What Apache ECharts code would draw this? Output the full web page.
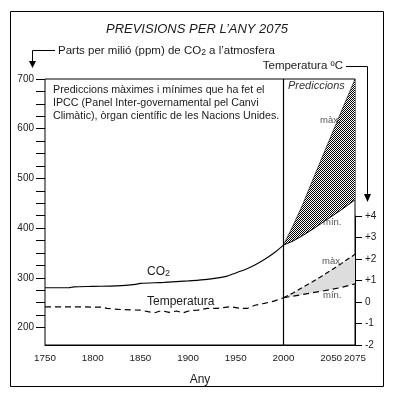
<!DOCTYPE html>
<html>
<head>
<meta charset="utf-8">
<script src="https://cdn.jsdelivr.net/npm/echarts@6/dist/echarts.min.js"></script>
<style>
html,body{margin:0;padding:0;background:#fff;}
#chart{width:394px;height:399px;}
</style>
</head>
<body>
<div id="chart"></div>
<script>
// ---- data ----
const co2Years = [1750, 1775, 1780, 1800, 1825, 1845, 1850, 1875, 1900, 1920, 1940, 1950, 1960, 1970, 1980, 1990, 2000];
const co2Values = [280, 280, 282, 283, 284, 287, 289, 291, 294, 297, 303, 310, 317, 326, 337, 350, 366];
const predYears = [2000, 2010, 2020, 2030, 2040, 2050, 2060, 2070, 2075];
const co2MaxValues = [366, 405, 447, 494, 540, 586, 632, 677, 700];
const co2MinValues = [366, 374, 385, 397, 410, 423, 436, 450, 457];
const tempYears = [1750, 1770, 1790, 1810, 1815, 1830, 1850, 1858, 1865, 1872, 1880, 1888, 1895, 1902, 1910, 1920, 1930, 1945, 1955, 1962, 1970, 1980, 1990, 2000];
const tempValues = [-0.23, -0.23, -0.23, -0.24, -0.3, -0.35, -0.38, -0.45, -0.5, -0.4, -0.48, -0.42, -0.5, -0.4, -0.38, -0.3, -0.3, -0.22, -0.3, -0.3, -0.15, -0.06, 0.04, 0.2];
const tempMaxValues = [0.2, 0.42, 0.68, 0.93, 1.2, 1.48, 1.77, 2.07, 2.22];
const tempMinValues = [0.2, 0.27, 0.35, 0.43, 0.5, 0.58, 0.67, 0.78, 0.85];
const xTickLabels = [1750, 1800, 1850, 1900, 1950, 2000, 2050, 2075];
const co2TickLabels = [200, 300, 400, 500, 600, 700];
const co2TickMarks = [200, 225, 250, 275, 300, 325, 350, 375, 400, 425, 450, 475, 500, 525, 550, 575, 600, 625, 650, 675, 700];
const tempTickLabels = [-2, -1, 0, 1, 2, 3, 4];
const predictionStart = [2000];

// ---- helpers ----
const zip = (xs, ys) => xs.map((x, i) => [x, ys[i]]);

const pc = document.createElement('canvas');
pc.width = 2; pc.height = 2;
const pctx = pc.getContext('2d');
pctx.fillStyle = '#fff'; pctx.fillRect(0, 0, 2, 2);
pctx.fillStyle = '#000'; pctx.fillRect(0, 0, 1, 1); pctx.fillRect(1, 1, 1, 1);
const hatch = {image: pc, repeat: 'repeat'};

function bandSeries(xi, yi, hi, lo, fill) {
  return {
    type: 'custom', xAxisIndex: xi, yAxisIndex: yi, z: 1, silent: true,
    data: [[predYears[0], lo[0]]],
    renderItem: (params, api) => {
      const top = predYears.map((y, i) => api.coord([y, hi[i]]));
      const bot = predYears.map((y, i) => api.coord([y, lo[i]])).reverse();
      return {type: 'polygon', shape: {points: top.concat(bot)}, style: {fill: fill, stroke: null}};
    }
  };
}

const FONT = '"Liberation Sans", Arial, Helvetica, sans-serif';
const TXT = '#1a1a1a';
const GREY = '#555';

const chart = echarts.init(document.getElementById('chart'), null, {renderer: 'canvas'});

const option = {
  animation: false,
  backgroundColor: '#fff',
  textStyle: {fontFamily: FONT},
  grid: [
    {left: 45, right: 39, top: 79, bottom: 54, show: true, borderColor: '#000', borderWidth: 1, backgroundColor: 'transparent', containLabel: false, outerBoundsMode: 'none'},
    {left: 45, right: 39, top: 216, bottom: 54, show: false, containLabel: false, outerBoundsMode: 'none'}
  ],
  xAxis: [
    {
      type: 'value', gridIndex: 0, min: 1750, max: 2075,
      axisLine: {show: true, lineStyle: {color: '#000', width: 1}},
      axisTick: {show: false},
      splitLine: {show: false},
      axisLabel: {customValues: xTickLabels, color: TXT, fontSize: 9.8, fontFamily: FONT, margin: 8, formatter: v => String(v)},
      name: 'Any', nameLocation: 'middle', nameGap: 29,
      nameTextStyle: {color: TXT, fontSize: 12, fontFamily: FONT}
    },
    {type: 'value', gridIndex: 1, min: 1750, max: 2075, show: false}
  ],
  yAxis: [
    {
      type: 'value', gridIndex: 0, min: 165, max: 700, position: 'left',
      axisLine: {show: false},
      axisTick: {show: true, inside: false, length: 9, customValues: co2TickMarks, lineStyle: {color: '#000', width: 1}},
      splitLine: {show: false},
      axisLabel: {customValues: co2TickLabels, color: TXT, fontSize: 10, fontFamily: FONT, margin: 11, formatter: v => String(v)}
    },
    {
      type: 'value', gridIndex: 1, min: -2, max: 4, interval: 1, position: 'right',
      axisLine: {show: true, lineStyle: {color: '#000', width: 1}},
      axisTick: {show: true, inside: false, length: 7, lineStyle: {color: '#000', width: 1}},
      splitLine: {show: false},
      axisLabel: {customValues: tempTickLabels, color: TXT, fontSize: 10, fontFamily: FONT, margin: 10,
        formatter: v => (v > 0 ? '+' + v : '' + v)}
    }
  ],
  series: [
    bandSeries(0, 0, co2MaxValues, co2MinValues, hatch),
    bandSeries(1, 1, tempMaxValues, tempMinValues, '#dddddd'),
    {
      name: 'CO2', type: 'line', xAxisIndex: 0, yAxisIndex: 0,
      data: zip(co2Years, co2Values), symbol: 'none', smooth: 0.3,
      lineStyle: {color: '#000', width: 1.1},
      markLine: {
        silent: true, symbol: ['none', 'none'], label: {show: false},
        lineStyle: {color: '#000', width: 1.2, type: 'solid'},
        data: predictionStart.map(y => ({xAxis: y}))
      },
      z: 3
    },
    {
      name: 'CO2 min', type: 'line', xAxisIndex: 0, yAxisIndex: 0,
      data: zip(predYears, co2MinValues), symbol: 'none',
      lineStyle: {color: '#000', width: 1}, z: 3
    },
    {
      name: 'CO2 max', type: 'line', xAxisIndex: 0, yAxisIndex: 0,
      data: zip(predYears, co2MaxValues), symbol: 'none',
      lineStyle: {color: '#000', width: 0.6}, z: 3
    },
    {
      name: 'Temperatura', type: 'line', xAxisIndex: 1, yAxisIndex: 1,
      data: zip(tempYears, tempValues), symbol: 'none',
      lineStyle: {color: '#000', width: 1.2, type: [6, 4]}, z: 3
    },
    {
      name: 'Temp min', type: 'line', xAxisIndex: 1, yAxisIndex: 1,
      data: zip(predYears, tempMinValues), symbol: 'none',
      lineStyle: {color: '#000', width: 1.2, type: [6, 4]}, z: 3
    },
    {
      name: 'Temp max', type: 'line', xAxisIndex: 1, yAxisIndex: 1,
      data: zip(predYears, tempMaxValues), symbol: 'none',
      lineStyle: {color: '#000', width: 1.2, type: [5, 3]}, z: 3
    }
  ],
  graphic: [
    {type: 'rect', shape: {x: 10.5, y: 11.5, width: 373, height: 375}, style: {fill: 'none', stroke: '#000', lineWidth: 1}, z: 0},
    {type: 'text', x: 197, y: 29, style: {text: 'PREVISIONS PER L\u2019ANY 2075', font: 'italic 13px ' + FONT, fill: TXT, align: 'center', verticalAlign: 'middle'}},
    {type: 'text', x: 58, y: 50, style: {
      text: '{a|Parts per milió (ppm) de CO}{s|2}{a| a l\u2019atmosfera}',
      rich: {a: {fontSize: 11.5, fontFamily: FONT, fill: TXT, verticalAlign: 'bottom', lineHeight: 14}, s: {fontSize: 8.5, fontFamily: FONT, fill: TXT, verticalAlign: 'bottom', lineHeight: 12}},
      verticalAlign: 'middle', align: 'left'}},
    {type: 'polyline', shape: {points: [[55, 50.5], [32.5, 50.5], [32.5, 62]]}, style: {stroke: '#000', lineWidth: 1, fill: 'none'}},
    {type: 'polygon', shape: {points: [[29, 61], [36, 61], [32.5, 68]]}, style: {fill: '#000'}},
    {type: 'text', x: 343, y: 66, style: {text: 'Temperatura ºC', fontSize: 11.5, fontFamily: FONT, fill: TXT, align: 'right', verticalAlign: 'middle'}},
    {type: 'polyline', shape: {points: [[346, 66.5], [367.5, 66.5], [367.5, 195]]}, style: {stroke: '#000', lineWidth: 1, fill: 'none'}},
    {type: 'polygon', shape: {points: [[364, 194], [371, 194], [367.5, 202]]}, style: {fill: '#000'}},
    {type: 'text', x: 53, y: 84, style: {
      text: 'Prediccions màximes i mínimes que ha fet el\nIPCC (Panel Inter-governamental pel Canvi\nClimàtic), òrgan científic de les Nacions Unides.',
      fontSize: 10.7, fontFamily: FONT, fill: TXT, lineHeight: 13, align: 'left', verticalAlign: 'top'}},
    {type: 'text', x: 288, y: 86, style: {text: 'Prediccions', font: 'italic 11px ' + FONT, fill: '#333', align: 'left', verticalAlign: 'middle'}},
    {type: 'text', x: 320, y: 120, z: 10, style: {text: 'màx.', fontSize: 9.5, fontFamily: FONT, fill: GREY, align: 'left', verticalAlign: 'middle'}},
    {type: 'text', x: 323, y: 222, z: 10, style: {text: 'mín.', fontSize: 9.5, fontFamily: FONT, fill: GREY, align: 'left', verticalAlign: 'middle'}},
    {type: 'text', x: 322, y: 261, z: 10, style: {text: 'màx.', fontSize: 9.5, fontFamily: FONT, fill: GREY, align: 'left', verticalAlign: 'middle'}},
    {type: 'text', x: 323, y: 295, z: 10, style: {text: 'mín.', fontSize: 9.5, fontFamily: FONT, fill: GREY, align: 'left', verticalAlign: 'middle'}},
    {type: 'text', x: 147, y: 271, style: {
      text: '{a|CO}{s|2}',
      rich: {a: {fontSize: 12, fontFamily: FONT, fill: TXT, verticalAlign: 'bottom', lineHeight: 14}, s: {fontSize: 9, fontFamily: FONT, fill: TXT, verticalAlign: 'bottom', lineHeight: 12}},
      align: 'left', verticalAlign: 'middle'}},
    {type: 'text', x: 147, y: 302, style: {text: 'Temperatura', fontSize: 12, fontFamily: FONT, fill: TXT, align: 'left', verticalAlign: 'middle'}}
  ]
};
chart.setOption(option);
</script>
</body>
</html>
